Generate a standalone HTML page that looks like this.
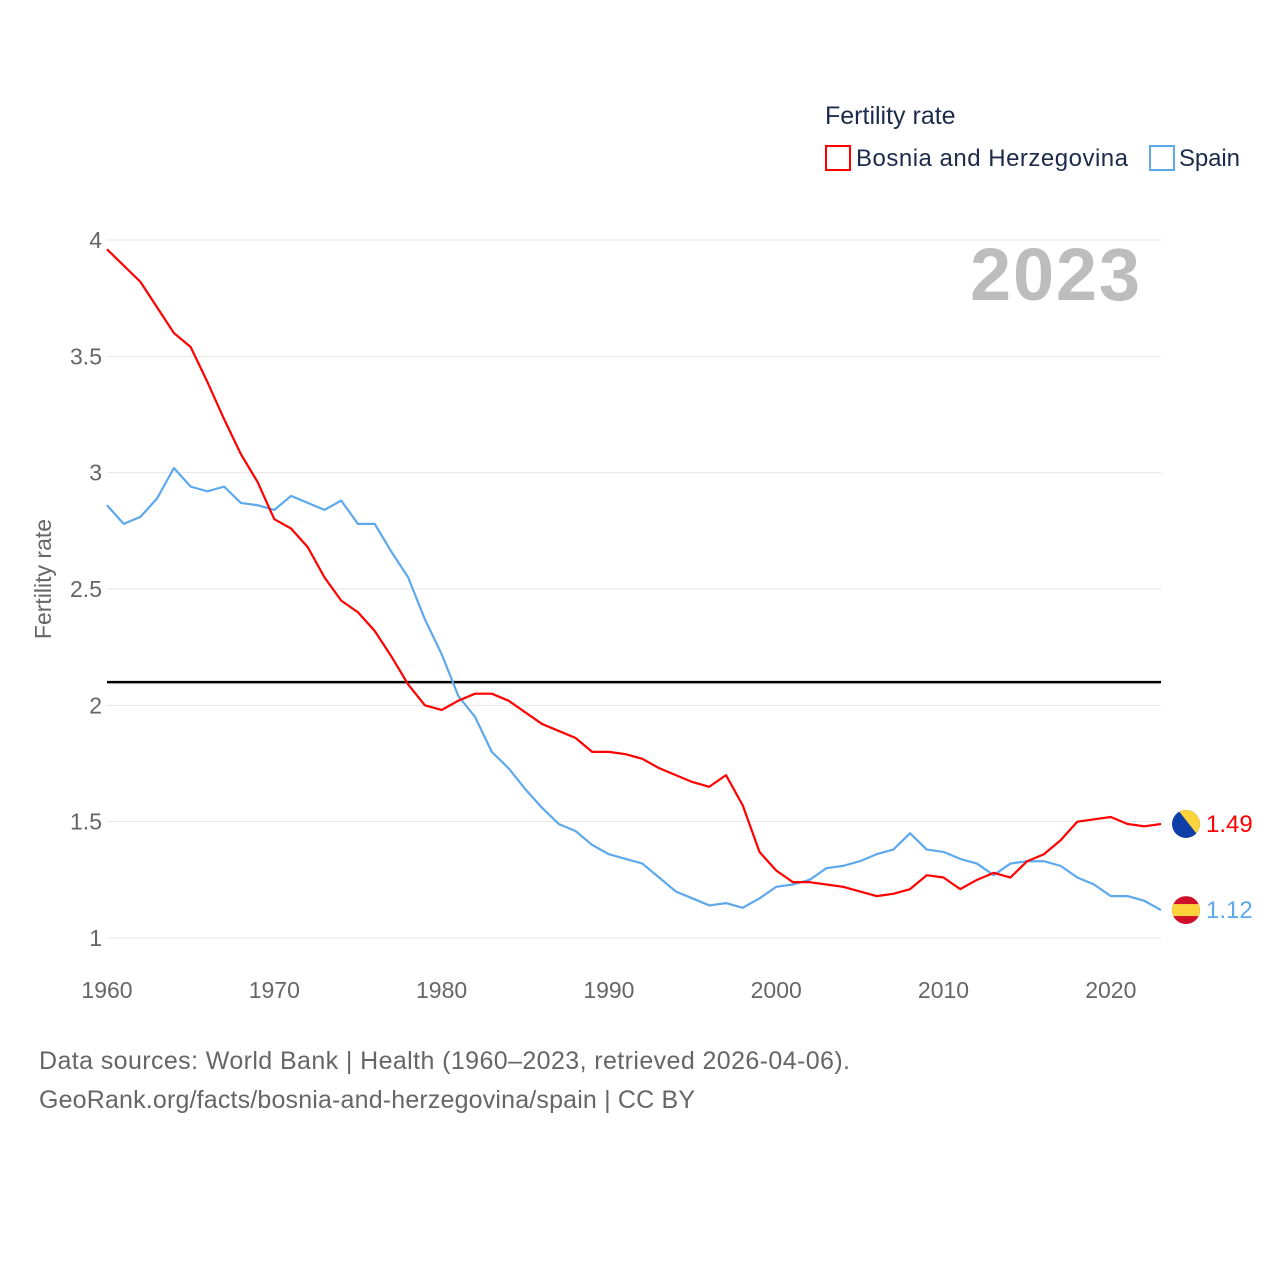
<!DOCTYPE html>
<html><head><meta charset="utf-8"><style>
html,body{margin:0;padding:0;background:#fff;width:1280px;height:1280px;overflow:hidden;font-family:"Liberation Sans",sans-serif}
</style></head><body>
<svg id="chart" width="1280" height="1280" xmlns="http://www.w3.org/2000/svg" font-family="Liberation Sans, sans-serif">
<text x="825" y="124" font-size="25" fill="#1c2b4a">Fertility rate</text>
<g><rect x="826" y="146" width="24" height="24" fill="none" stroke="#ff0000" stroke-width="2"/><text x="856" y="166" font-size="24" fill="#1c2b4a" textLength="272">Bosnia and Herzegovina</text></g>
<g><rect x="1150" y="146" width="24" height="24" fill="none" stroke="#5ea8ec" stroke-width="2"/><text x="1179" y="166" font-size="24" fill="#1c2b4a" textLength="61">Spain</text></g>
<text x="1140" y="300" font-size="74" font-weight="bold" fill="#bdbdbd" text-anchor="end" textLength="170">2023</text>
<text transform="translate(51,579) rotate(-90)" font-size="23" fill="#666" text-anchor="middle">Fertility rate</text>
<g id="grid"></g><g id="yticks"></g><g id="xticks"></g><g id="lines"></g>
<text x="39" y="1069" font-size="25" fill="#666" textLength="811">Data sources: World Bank | Health (1960–2023, retrieved 2026-04-06).</text>
<text x="39" y="1108" font-size="25" fill="#666" textLength="656">GeoRank.org/facts/bosnia-and-herzegovina/spain | CC BY</text>
</svg>
<script>
const years=[];for(let y=1960;y<=2023;y++)years.push(y);
const bosnia=[3.96,3.89,3.82,3.71,3.60,3.54,3.39,3.23,3.08,2.96,2.80,2.76,2.68,2.55,2.45,2.40,2.32,2.21,2.09,2.00,1.98,2.02,2.05,2.05,2.02,1.97,1.92,1.89,1.86,1.80,1.80,1.79,1.77,1.73,1.70,1.67,1.65,1.70,1.57,1.37,1.29,1.24,1.24,1.23,1.22,1.20,1.18,1.19,1.21,1.27,1.26,1.21,1.25,1.28,1.26,1.33,1.36,1.42,1.50,1.51,1.52,1.49,1.48,1.49];
const spain=[2.86,2.78,2.81,2.89,3.02,2.94,2.92,2.94,2.87,2.86,2.84,2.90,2.87,2.84,2.88,2.78,2.78,2.66,2.55,2.37,2.22,2.04,1.95,1.80,1.73,1.64,1.56,1.49,1.46,1.40,1.36,1.34,1.32,1.26,1.20,1.17,1.14,1.15,1.13,1.17,1.22,1.23,1.25,1.30,1.31,1.33,1.36,1.38,1.45,1.38,1.37,1.34,1.32,1.27,1.32,1.33,1.33,1.31,1.26,1.23,1.18,1.18,1.16,1.12];
const yTicks=[1,1.5,2,2.5,3,3.5,4];
const yTickLabels=["1","1.5","2","2.5","3","3.5","4"];
const xTicks=[1960,1970,1980,1990,2000,2010,2020];
const replacement=2.1;
const NS="http://www.w3.org/2000/svg";
const X=v=>107+(v-1960)*(1161-107)/63;
const Y=v=>938-(v-1)*(938-240)/3;
function mk(t,a,p){const e=document.createElementNS(NS,t);for(const k in a)e.setAttribute(k,a[k]);p.appendChild(e);return e;}
const grid=document.getElementById('grid'),yt=document.getElementById('yticks'),xt=document.getElementById('xticks'),ln=document.getElementById('lines');
yTicks.forEach((v,i)=>{
 const g=mk('line',{x1:107,x2:1161,y1:Y(v),y2:Y(v),stroke:'#e6e6e6','stroke-width':1},grid);
 
 
 const t=mk('text',{x:102,y:Y(v)+8,'font-size':23,fill:'#666','text-anchor':'end'},yt);t.textContent=yTickLabels[i];
 
 
});
xTicks.forEach(v=>{
 const t=mk('text',{x:X(v),y:998,'font-size':23,fill:'#666','text-anchor':'middle'},xt);t.textContent=v;
 
 
});
const rl=mk('line',{x1:107,x2:1161,y1:Y(replacement),y2:Y(replacement),stroke:'#000','stroke-width':2.5},ln);


function series(vals,color,name){
 const p=mk('polyline',{points:vals.map((v,i)=>X(years[i])+','+Y(v)).join(' '),fill:'none',stroke:color,'stroke-width':2.2,'stroke-linejoin':'round'},ln);
 
 
}
series(spain,'#5ea8ec','spain-line');
series(bosnia,'#ff0000','bosnia-line');
const lb=bosnia[bosnia.length-1],ls=spain[spain.length-1];
const fb=mk('g',{},ln);


const cy1=Y(lb);
mk('clipPath',{id:'cb'},fb).appendChild(document.createElementNS(NS,'circle'));
const cb=document.querySelector('#cb circle');cb.setAttribute('cx',1186);cb.setAttribute('cy',cy1);cb.setAttribute('r',14);
const gb=mk('g',{'clip-path':'url(#cb)'},fb);
mk('rect',{x:1172,y:cy1-14,width:28,height:28,fill:'#0d3fa6'},gb);
mk('polygon',{points:`1178,${cy1-14} 1200,${cy1-14} 1200,${cy1+14}`,fill:'#fcd33a'},gb);
const fs=mk('g',{},ln);


const cy2=Y(ls);
mk('clipPath',{id:'cs'},fs).appendChild(document.createElementNS(NS,'circle'));
const cs=document.querySelector('#cs circle');cs.setAttribute('cx',1186);cs.setAttribute('cy',cy2);cs.setAttribute('r',14);
const gs=mk('g',{'clip-path':'url(#cs)'},fs);
mk('rect',{x:1172,y:cy2-14,width:28,height:28,fill:'#d0102a'},gs);
mk('rect',{x:1172,y:cy2-6,width:28,height:12,fill:'#fcd33a'},gs);
const tb=mk('text',{x:1206,y:cy1+8,'font-size':24,fill:'#ff0000'},ln);tb.textContent=lb.toFixed(2);


const ts=mk('text',{x:1206,y:cy2+8,'font-size':24,fill:'#5ea8ec'},ln);ts.textContent=ls.toFixed(2);


</script>
</body></html>
